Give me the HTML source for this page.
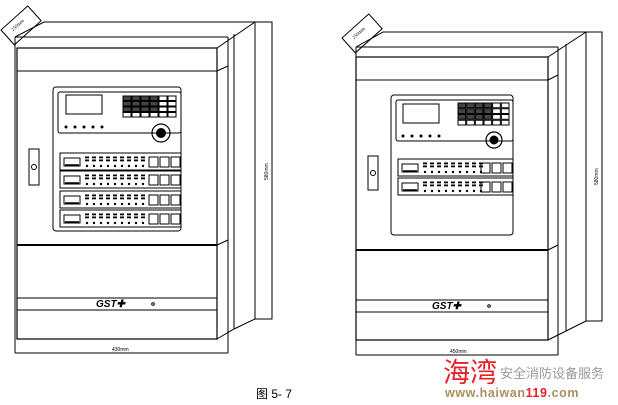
<!DOCTYPE html>
<html><head><meta charset="utf-8">
<style>
html,body{margin:0;padding:0;background:#fff;width:618px;height:405px;overflow:hidden}
svg{display:block}
.t{font-family:"Liberation Sans",sans-serif}
</style></head>
<body>
<svg id="s" width="618" height="405" viewBox="0 0 618 405" xmlns="http://www.w3.org/2000/svg" fill="none" stroke="#000" stroke-width="1">
<text x="256" y="398" font-size="12" fill="#000" stroke="none" font-family="Liberation Sans,Noto Sans CJK SC,sans-serif">图 5- 7</text>
<text x="443" y="382" font-size="27" fill="#e8202a" stroke="none" font-family="Noto Sans CJK SC,sans-serif">海湾</text>
<text x="500" y="378" font-size="13" fill="#999" stroke="none" font-family="Noto Sans CJK SC,sans-serif">安全消防设备服务</text>
<text x="445" y="397" font-size="12.5" font-weight="bold" fill="#a89060" stroke="none" font-family="Liberation Sans,sans-serif" letter-spacing="0.6">www.haiwan<tspan fill="#e8202a">119</tspan>.com</text>
</svg>
<script>
var s=document.getElementById('s'),NS='http://www.w3.org/2000/svg';
function e(t,a){var n=document.createElementNS(NS,t);for(var k in a)n.setAttribute(k,a[k]);s.appendChild(n);return n}
function L(x1,y1,x2,y2,w){e('line',{x1:x1,y1:y1,x2:x2,y2:y2,'stroke-width':w||1})}
function R(x,y,w,h,f,sw,rx){e('rect',{x:x,y:y,width:w,height:h,fill:f||'none','stroke-width':sw||1,rx:rx||0})}
function T(x,y,str,sz,rot){var t=e('text',{x:x,y:y,'font-size':sz,fill:'#000',stroke:'none','class':'t'});if(rot)t.setAttribute('transform','rotate('+rot+' '+x+' '+y+')');t.textContent=str}
function strip(x,y,w){
  R(x,y,w,17);
  R(x+4,y+5,16,8);L(x+5,y+12,x+19,y+12,1.5);
  for(var i=0;i<9;i++){var dx=x+27+i*7;
    e('circle',{cx:dx,cy:y+13,r:1.2,fill:'#000',stroke:'none'});
    R(dx-1.5,y+4,3,0.8,'#ccc',0);R(dx-1.5,y+7,3,0.8,'#ccc',0);}
  for(var j=0;j<3;j++)R(x+w-32+j*11,y+4,9,10,'none',1);
}
function panel(px,py,pw,ph,strips,kx,ky,kw,kh,lx,ly,sec,knx,kny,kr){
  R(px,py,pw,ph,'none',1,3);
  R(px+5,py+5,pw-5,sec,'none',1,2);
  R(lx,ly,36,19);
  for(var r=0;r<4;r++)for(var c=0;c<6;c++)R(kx+c*kw/6,ky+r*kh/4,kw/6-1,kh/4-1,r<3&&c<4?'#444':'none',1);
  for(var i=0;i<5;i++){e('circle',{cx:lx+i*9,cy:ly+32,r:1.5,fill:'#000',stroke:'none'})}
  e('circle',{cx:knx,cy:kny,r:kr,'stroke-width':1.2});e('circle',{cx:knx,cy:kny,r:kr/2,fill:'#000'});
  strips.forEach(function(y){strip(px+7,y,pw-7)});
}
function cab(a){
  e('polyline',{points:[a.x0,a.yt,a.tx,a.ty,a.rr,a.ty].join(' ')});
  L(a.x0,a.yt,a.x0,a.yb);L(a.x0,a.yb,a.xo,a.yb);L(a.xo,a.yt,a.xo,a.yb);
  L(a.x0,a.yt,a.xo,a.yt);
  R(a.x1,a.ft,a.xf-a.x1,a.fb-a.ft,'none',1.2);
  L(a.x1,a.band,a.xf,a.band);
  L(a.xf,a.ft,a.rr,a.ty);
  L(a.xf,a.band,a.xo,a.band-5);
  L(a.x1,a.div,a.xf,a.div,2);L(a.xf,a.div,a.xo,a.div-5);
  L(a.x1,a.b1,a.xf,a.b1);L(a.x1,a.b2,a.xf,a.b2);
  L(a.xm,a.yt-3,a.xm,a.sb+10);
  R(a.rr,a.ty,a.rd-a.rr,a.sb-a.ty);
  e('polyline',{points:[a.xf,a.fb,a.xm,a.sb+10,a.rr,a.sb].join(' ')});
  R(a.hx,a.hy,10,a.hh);e('circle',{cx:a.hx+5,cy:a.hy+a.hh/2,r:2.5});
  var g=e('text',{x:a.lgx,y:a.b2-3,'font-size':10,'font-weight':'bold','font-style':'italic',fill:'#000',stroke:'none','class':'t'});g.textContent='GST✚';
  e('circle',{cx:a.lgx+57,cy:a.b2-6,r:1.3});
  T(a.dimx,a.yb-2,a.wlab,5);
  T(a.rd-4,a.rl,'580mm',5,-90);
  var tg=e('g',{transform:'translate('+a.tgx+' '+a.tgy+') rotate(-42)'});
  var rr=document.createElementNS(NS,'rect');rr.setAttribute('x',0);rr.setAttribute('y',0);rr.setAttribute('width',36);rr.setAttribute('height',20);tg.appendChild(rr);
  var tt=document.createElementNS(NS,'text');tt.setAttribute('x',8);tt.setAttribute('y',9);tt.setAttribute('font-size',5);tt.setAttribute('fill','#000');tt.setAttribute('stroke','none');tt.textContent='250mm';tg.appendChild(tt);
}
cab({x0:15,yt:37,tx:44,ty:22,rr:255,rd:272,yb:353,xo:228,x1:17,xf:217,ft:48,fb:339,band:71,div:245,b1:298,b2:310,xm:234,sb:319,hx:29,hy:149,hh:36,lgx:96,dimx:112,wlab:'430mm',rl:180,tgx:1,tgy:30});
panel(53,87,128,144,[153,171,191,210],123,96,54,22,66,95,41,161,133,9);
cab({x0:356,yt:47,tx:383,ty:32,rr:586,rd:602,yb:355,xo:558,x1:356,xf:548,ft:57,fb:340,band:80,div:250,b1:300,b2:312,xm:566,sb:321,hx:368,hy:156,hh:34,lgx:432,dimx:450,wlab:'450mm',rl:185,tgx:342,tgy:38});
panel(391,95,122,140,[159,178],458,103,52,23,403,104,41,494,140,8);
</script>
</body></html>
